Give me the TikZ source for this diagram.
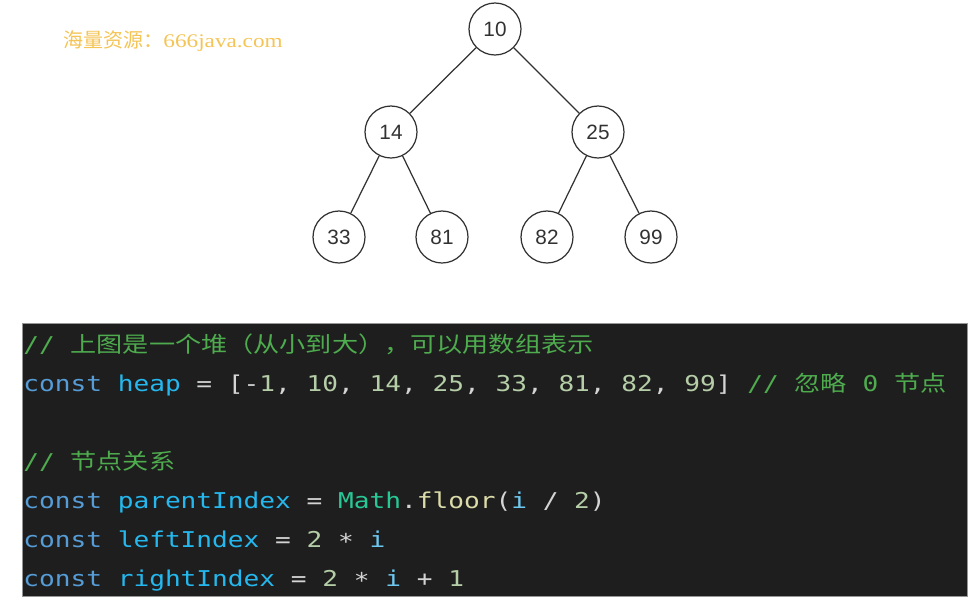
\documentclass[tikz,border=0pt]{standalone}
\usepackage{fontspec}
\setmainfont{Liberation Sans}
\newfontfamily\codefont[FakeStretch=1.2]{DejaVu Sans Mono}
\newfontfamily\cjkfont[FakeStretch=1.2]{Noto Sans CJK SC}
\newfontfamily\wmzh{Noto Sans CJK SC}
\newfontfamily\wmlat[FakeStretch=1.2]{Liberation Serif}
\definecolor{codebg}{RGB}{30,30,30}
\definecolor{codeframe}{RGB}{150,150,150}
\definecolor{cmtgreen}{RGB}{78,172,78}
\definecolor{kwblue}{RGB}{86,156,214}
\definecolor{varcyan}{RGB}{36,184,238}
\definecolor{icyan}{RGB}{110,200,240}
\definecolor{numgreen}{RGB}{181,206,168}
\definecolor{punct}{RGB}{212,212,212}
\definecolor{mathteal}{RGB}{40,200,150}
\definecolor{fnyellow}{RGB}{220,220,170}
\definecolor{treeline}{RGB}{50,50,50}
\definecolor{wmorange}{RGB}{244,196,86}
\newcommand{\zh}[1]{{\cjkfont #1}}
\newcommand{\kw}[1]{\textcolor{kwblue}{#1}}
\newcommand{\vr}[1]{\textcolor{varcyan}{#1}}
\newcommand{\nm}[1]{\textcolor{numgreen}{#1}}
\newcommand{\cm}[1]{\textcolor{cmtgreen}{#1}}
\newcommand{\mul}{\raisebox{-0.22ex}{*}}
\tikzset{
  hn/.style={draw=treeline,circle,line width=0.7pt,minimum size=1.04cm,inner sep=0pt,text=treeline,font=\fontsize{11.8}{13}\selectfont},
  edge/.style={draw=treeline,line width=0.7pt},
  cline/.style={anchor=base west,inner sep=0pt,text=punct,font=\fontsize{12.4}{14}\codefont},
  wm/.style={anchor=base west,inner sep=0pt,text=wmorange},
}

\begin{document}
\begin{tikzpicture}[x=0.02cm,y=-0.02cm]
  \useasboundingbox (0,0) rectangle (977,605);
  \node[wm] (mark) at (63,47) {{\fontsize{11.4}{12}\wmzh 海量资源：}{\fontsize{11}{12}\wmlat 666java.com}};
  \node[hn] (n10) at (495,29) {10};
  \node[hn] (n14) at (391,132) {14};
  \node[hn] (n25) at (598,132) {25};
  \node[hn] (n33) at (339,237) {33};
  \node[hn] (n81) at (442,237) {81};
  \node[hn] (n82) at (547,237) {82};
  \node[hn] (n99) at (651,237) {99};
  \draw[edge] (n10) -- (n14);
  \draw[edge] (n10) -- (n25);
  \draw[edge] (n14) -- (n33);
  \draw[edge] (n14) -- (n81);
  \draw[edge] (n25) -- (n82);
  \draw[edge] (n25) -- (n99);
  \draw[draw=codeframe,fill=codebg,line width=0.4pt] (22,323) rectangle (967,596);
  \node[cline] (c1) at (23,352) {\cm{// \zh{上图是一个堆（从小到大），可以用数组表示}}};
  \node[cline] (c2) at (23,391) {\kw{const} \vr{heap} = [-\nm{1}, \nm{10}, \nm{14}, \nm{25}, \nm{33}, \nm{81}, \nm{82}, \nm{99}] \cm{// \zh{忽略} 0 \zh{节点}}};
  \node[cline] (c3) at (23,469) {\cm{// \zh{节点关系}}};
  \node[cline] (c4) at (23,508) {\kw{const} \vr{parentIndex} = \textcolor{mathteal}{Math}.\textcolor{fnyellow}{floor}(\textcolor{icyan}{i} / \nm{2})};
  \node[cline] (c5) at (23,547) {\kw{const} \vr{leftIndex} = \nm{2} \mul{} \textcolor{icyan}{i}};
  \node[cline] (c6) at (23,586) {\kw{const} \vr{rightIndex} = \nm{2} \mul{} \textcolor{icyan}{i} + \nm{1}};
\end{tikzpicture}
\end{document}
